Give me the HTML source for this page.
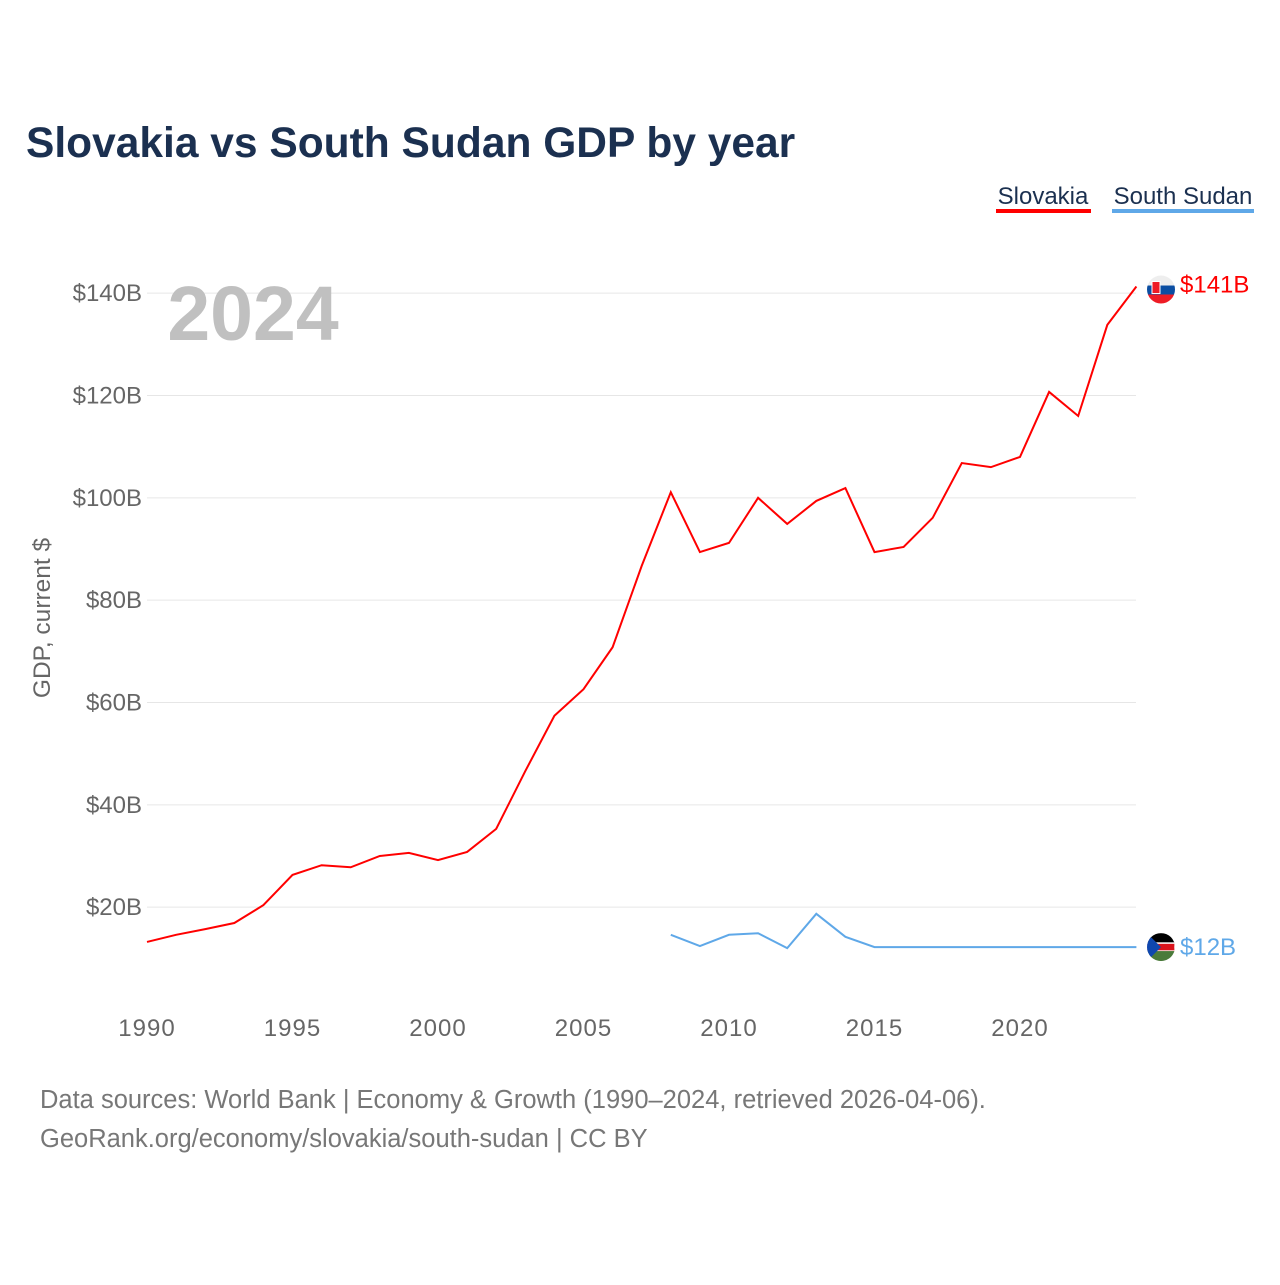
<!DOCTYPE html>
<html><head><meta charset="utf-8">
<style>
body{margin:0;background:#fff;font-family:"Liberation Sans",sans-serif;}
svg text{font-family:"Liberation Sans",sans-serif;}
</style></head>
<body>
<svg width="1280" height="1280" viewBox="0 0 1280 1280">
<text x="26" y="157" font-size="42.5" font-weight="bold" fill="#1b3050">Slovakia vs South Sudan GDP by year</text>
<g>
<text x="1043" y="204" font-size="24" fill="#1b3050" text-anchor="middle">Slovakia</text>
<rect x="996" y="209" width="95" height="4" fill="#ff0000"/>
<text x="1183" y="204" font-size="24" fill="#1b3050" text-anchor="middle">South Sudan</text>
<rect x="1112" y="209" width="142" height="4" fill="#5fa8e8"/>
</g>
<g id="grid"></g>
<g id="yticks"></g>
<g id="xticks"></g>
<text x="253" y="340" font-size="77" font-weight="bold" fill="#c0c0c0" text-anchor="middle">2024</text>
<text transform="translate(50,618) rotate(-90)" font-size="24.5" fill="#666" text-anchor="middle">GDP, current $</text>
<g id="series"></g>
<text x="40" y="1108" font-size="25.5" fill="#777">Data sources: World Bank | Economy &amp; Growth (1990–2024, retrieved 2026-04-06).</text>
<text x="40" y="1147" font-size="25.5" fill="#777">GeoRank.org/economy/slovakia/south-sudan | CC BY</text>
</svg>
<script>
const years=[1990,1991,1992,1993,1994,1995,1996,1997,1998,1999,2000,2001,2002,2003,2004,2005,2006,2007,2008,2009,2010,2011,2012,2013,2014,2015,2016,2017,2018,2019,2020,2021,2022,2023,2024];
const slovakia=[13.2,14.6,15.7,16.9,20.4,26.3,28.2,27.8,30.0,30.6,29.2,30.8,35.3,46.6,57.4,62.6,70.8,86.7,101.1,89.4,91.2,100.0,94.9,99.4,101.9,89.4,90.4,96.1,106.8,106.0,108.0,120.7,116.0,133.8,141.3];
const ssYears=[2008,2009,2010,2011,2012,2013,2014,2015,2016,2017,2018,2019,2020,2021,2022,2023,2024];
const southSudan=[14.6,12.4,14.6,14.9,12.0,18.7,14.2,12.2,12.2,12.2,12.2,12.2,12.2,12.2,12.2,12.2,12.2];
const yTicks=[20,40,60,80,100,120,140];
const xTicks=[1990,1995,2000,2005,2010,2015,2020];
const NS="http://www.w3.org/2000/svg";
const X=y=>147+(y-1990)*(1020-147)/30;
const Y=v=>1009.5-v*614/120;
function mk(tag,attrs,parent){const e=document.createElementNS(NS,tag);for(const k in attrs)e.setAttribute(k,attrs[k]);parent.appendChild(e);return e;}
const grid=document.getElementById('grid'),yt=document.getElementById('yticks'),xt=document.getElementById('xticks'),ser=document.getElementById('series');
yTicks.forEach(v=>{
 const l=mk('line',{x1:147,x2:1136,y1:Y(v),y2:Y(v),stroke:'#e6e6e6','stroke-width':1},grid);
 
 
 const t=mk('text',{x:142,y:Y(v)+8,'font-size':24,fill:'#666','text-anchor':'end'},yt);
 t.textContent='$'+v+'B';
 
 
});
xTicks.forEach(v=>{
 const t=mk('text',{x:X(v),y:1036,'font-size':24,fill:'#666','text-anchor':'middle','letter-spacing':1},xt);
 t.textContent=v;
 
 
});
function line(xs,vs,color,name){
 const p=mk('polyline',{points:xs.map((y,i)=>X(y)+','+Y(vs[i])).join(' '),fill:'none',stroke:color,'stroke-width':2},ser);
 
 
}
line(years,slovakia,'#ff0000','slovakia-line');
line(ssYears,southSudan,'#5fa8e8','south-sudan-line');
const sv=slovakia[slovakia.length-1], ssv=southSudan[southSudan.length-1];
const cx=1161;
const f1=mk('g',{},ser);


const cy1=Y(sv)+3;
const cp1=mk('clipPath',{id:'c1'},f1);mk('circle',{cx:cx,cy:cy1,r:14},cp1);
const g1=mk('g',{'clip-path':'url(#c1)'},f1);
mk('rect',{x:cx-14,y:cy1-14,width:28,height:10,fill:'#eee'},g1);
mk('rect',{x:cx-14,y:cy1-4,width:28,height:9,fill:'#0b4ea2'},g1);
mk('rect',{x:cx-14,y:cy1+5,width:28,height:10,fill:'#ee1c25'},g1);
mk('rect',{x:cx-9,y:cy1-8,width:8,height:12,fill:'#ee1c25',stroke:'#fff','stroke-width':1},g1);
const l1=mk('text',{x:1180,y:Y(sv)+6,'font-size':24,fill:'#ff0000'},ser);
l1.textContent='$'+Math.round(sv)+'B';


const f2=mk('g',{},ser);


const cy2=Y(ssv);
const cp=mk('clipPath',{id:'c2'},f2);mk('circle',{cx:cx,cy:cy2,r:14},cp);
const g2=mk('g',{'clip-path':'url(#c2)'},f2);
mk('rect',{x:cx-14,y:cy2-14,width:28,height:10,fill:'#000'},g2);
mk('rect',{x:cx-14,y:cy2-4,width:28,height:8,fill:'#da121a',stroke:'#fff','stroke-width':1.5},g2);
mk('rect',{x:cx-14,y:cy2+4,width:28,height:10,fill:'#4a7a3a'},g2);
mk('polygon',{points:`${cx-14},${cy2-14} ${cx},${cy2} ${cx-14},${cy2+14}`,fill:'#0f47af'},g2);
const l2=mk('text',{x:1180,y:cy2+8,'font-size':24,fill:'#5fa8e8'},ser);
l2.textContent='$'+Math.round(ssv)+'B';


</script>
</body></html>
